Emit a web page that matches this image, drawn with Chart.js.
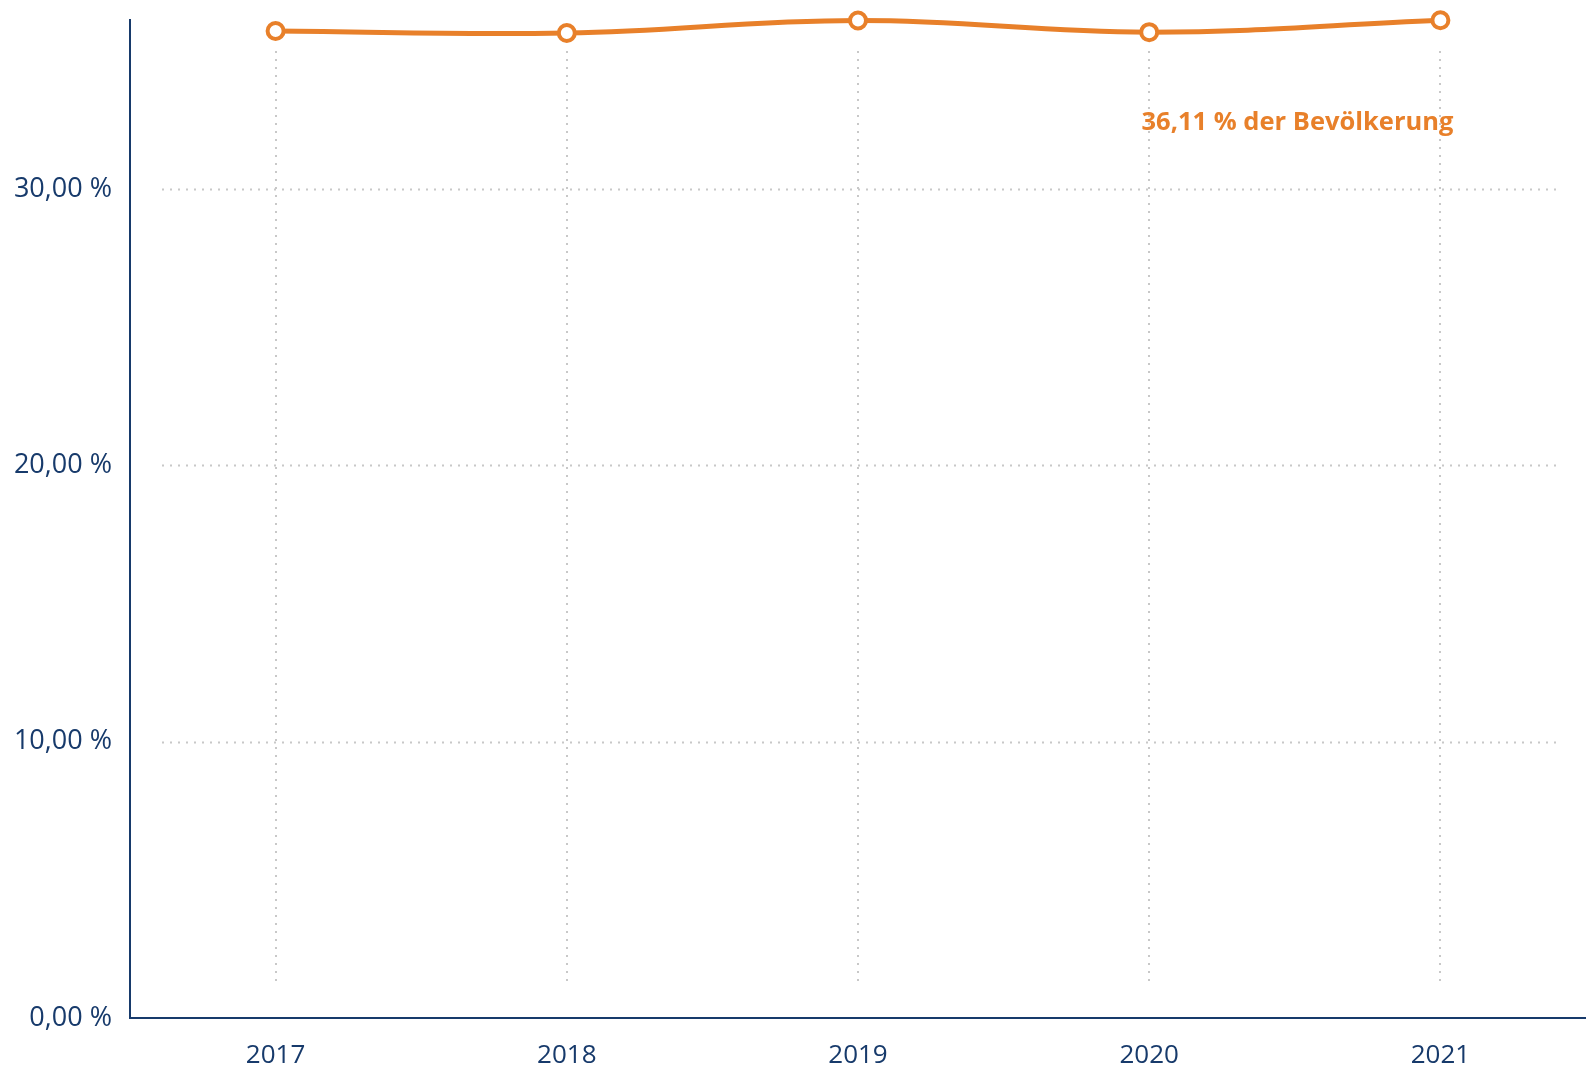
<!DOCTYPE html>
<html>
<head>
<meta charset="utf-8">
<script src="https://cdn.jsdelivr.net/npm/chart.js@4/dist/chart.umd.min.js"></script>
<style>
  html, body { margin: 0; padding: 0; background: #ffffff; overflow: hidden; }
  #wrap { width: 1586px; height: 1069px; position: relative; }
  canvas { display: block; }
</style>
</head>
<body>
<div id="wrap"><canvas id="c"></canvas></div>
<script>
const years = ['2017', '2018', '2019', '2020', '2021'];
const shareValues = [35.72, 35.65, 36.10, 35.68, 36.11];
const yTicks = [0, 10, 20, 30];
const axisMax = 36.12;
const annotationText = '36,11 % der Bevölkerung';

const NAVY = '#173a6b';
const ORANGE = '#e8802a';
const FONT = "'Open Sans', 'Noto Sans', sans-serif";

const fmt = v => v.toFixed(2).replace('.', ',') + ' %';

const dottedGrid = {
  id: 'dottedGrid',
  beforeDatasetsDraw(chart) {
    const { ctx, chartArea: a, scales: { x, y } } = chart;
    ctx.save();
    ctx.strokeStyle = '#c8c8c8';
    ctx.lineWidth = 2;
    ctx.setLineDash([2, 6]);
    yTicks.forEach(t => {
      if (t === 0) return;
      const py = Math.round(y.getPixelForValue(t)) + 0.5;
      ctx.beginPath();
      ctx.moveTo(a.left + 32, py);
      ctx.lineTo(a.right - 30, py);
      ctx.stroke();
    });
    years.forEach((_, i) => {
      const px = Math.round(x.getPixelForValue(i));
      ctx.beginPath();
      ctx.moveTo(px, a.top + 31);
      ctx.lineTo(px, a.bottom - 36);
      ctx.stroke();
    });
    ctx.restore();
  }
};

const valueLabel = {
  id: 'valueLabel',
  afterDatasetsDraw(chart) {
    const { ctx, scales: { x, y } } = chart;
    const last = shareValues.length - 1;
    const px = x.getPixelForValue(last);
    const py = y.getPixelForValue(shareValues[last]);
    ctx.save();
    ctx.font = "bold 25.5px " + FONT;
    ctx.fillStyle = ORANGE;
    ctx.textAlign = 'right';
    ctx.textBaseline = 'middle';
    ctx.fillText(annotationText, px + 13, py + 102);
    ctx.restore();
  }
};

new Chart(document.getElementById('c'), {
  type: 'line',
  data: {
    labels: years,
    datasets: [{
      data: shareValues,
      borderColor: ORANGE,
      borderWidth: 5,
      tension: 0.4,
      pointRadius: 8,
      pointHoverRadius: 8,
      pointBorderWidth: 4,
      pointBackgroundColor: '#ffffff',
      pointBorderColor: ORANGE,
      clip: false,
      fill: false
    }]
  },
  options: {
    responsive: true,
    maintainAspectRatio: false,
    animation: false,
    layout: { autoPadding: false, padding: { top: 20, right: 0, bottom: 0, left: 0 } },
    plugins: { legend: { display: false }, tooltip: { enabled: false } },
    scales: {
      x: {
        type: 'category',
        offset: true,
        grid: { display: false, drawTicks: false },
        border: { display: true, color: NAVY, width: 2 },
        ticks: { color: NAVY, font: { family: FONT, size: 26 }, padding: 22, maxRotation: 0 },
        afterFit(s) { s.height = 51; s.paddingLeft = 0; s.paddingRight = 0; }
      },
      y: {
        min: 0,
        max: axisMax,
        grid: { display: false, drawTicks: false },
        border: { display: true, color: NAVY, width: 2 },
        ticks: {
          stepSize: 10,
          includeBounds: false,
          color: NAVY,
          font: { family: FONT, size: 27 },
          padding: 18,
          callback: v => fmt(v)
        },
        afterFit(s) { s.width = 130; s.paddingTop = 0; s.paddingBottom = 0; }
      }
    }
  },
  plugins: [dottedGrid, valueLabel]
});
</script>
</body>
</html>
